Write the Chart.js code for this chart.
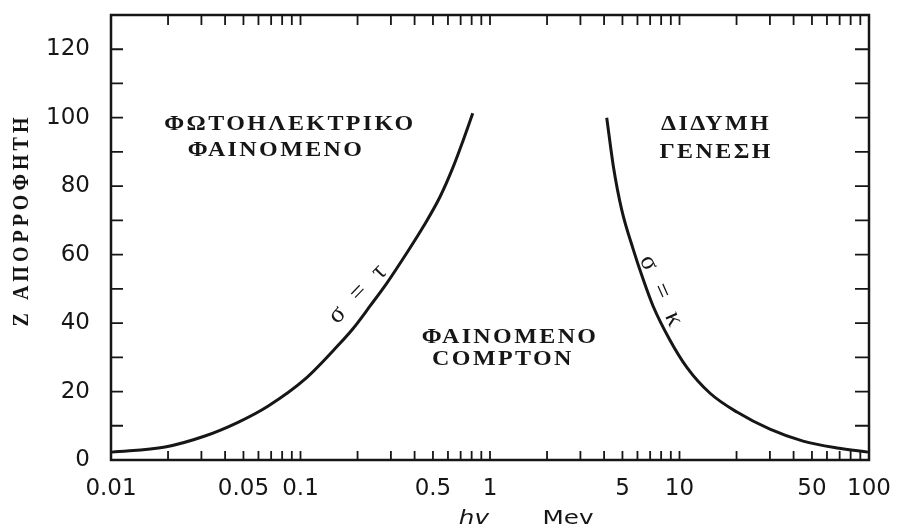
<!DOCTYPE html>
<html>
<head>
<meta charset="utf-8">
<script src="https://cdn.jsdelivr.net/npm/chart.js@4/dist/chart.umd.min.js"></script>
<style>
  html, body { margin: 0; padding: 0; background: #fff; overflow: hidden; }
  #wrap { width: 901px; height: 531px; }
  canvas { display: block; }
</style>
</head>
<body>
<div id="wrap"><canvas id="zChart" width="901" height="531"></canvas></div>
<script>
// boundary photoelectric / Compton (σ = τ): photon energy (MeV) vs Z
const photoEnergy = [0.0101, 0.0193, 0.0313, 0.0468, 0.0673, 0.1056, 0.158, 0.190, 0.233, 0.285, 0.363, 0.445, 0.545, 0.640, 0.723, 0.811];
const photoZ      = [2.3, 3.8, 7, 11, 15.7, 23.6, 33.5, 38.5, 45, 51.6, 60.4, 68.2, 76.9, 85.7, 93.5, 101.3];

// boundary Compton / pair production (σ = κ)
const pairEnergy = [4.13, 4.48, 4.96, 5.71, 6.41, 7.25, 8.91, 10.96, 14.5, 20.1, 30.0, 44.9, 67.8, 98.8];
const pairZ      = [100, 85.7, 73, 61.4, 53, 45, 35, 27, 19.5, 14, 9, 5.5, 3.5, 2.3];

// axis ticks
const xTickValues = [0.01, 0.05, 0.1, 0.5, 1, 5, 10, 50, 100];
const yTickValues = [0, 20, 40, 60, 80, 100, 120];
const decades = [0.01, 0.1, 1, 10];
const mantissas = [1, 2, 3, 4, 5, 6, 7, 8, 9];
const yMarkValues = [10, 20, 30, 40, 50, 60, 70, 80, 90, 100, 110, 120];

// region captions, anchored in data units (energy, Z)
const regionLabels = [
    { lines: ['ΦΩΤΟΗΛΕΚΤΡΙΚΟ', 'ΦΑΙΝΟΜΕΝΟ'], at: [[0.088, 98], [0.0743, 90.3]] },
    { lines: ['ΔΙΔΥΜΗ', 'ΓΕΝΕΣΗ'], at: [[15.6, 98], [15.6, 89.6]] },
    { lines: ['ΦΑΙΝΟΜΕΝΟ', 'COMPTON'], at: [[1.276, 35.8], [1.17, 29.3]] }
];
const curveLabels = [
    { text: 'σ = τ', at: [0.204, 49], angle: -46 },
    { text: 'σ = κ', at: [8.09, 48.8], angle: 66 }
];

const xMarkValues = [];
decades.forEach(d => mantissas.forEach(m => xMarkValues.push(+(d * m).toPrecision(3))));
xMarkValues.push(100);

const ink = '#161616';

function stretchedText(ctx, text, x, y, sx) {
    ctx.save();
    ctx.translate(x, y);
    ctx.scale(sx, 1);
    ctx.fillText(text, 0, 0);
    ctx.restore();
}

const frame = {
    id: 'frame',
    afterDraw(chart) {
        const { ctx, chartArea: a, scales: { x, y } } = chart;
        ctx.save();
        ctx.strokeStyle = ink;
        ctx.lineWidth = 2.5;
        ctx.strokeRect(a.left, a.top, a.right - a.left, a.bottom - a.top);

        // inward tick marks on all four sides
        ctx.lineWidth = 1.8;
        ctx.beginPath();
        xMarkValues.forEach(v => {
            const px = x.getPixelForValue(v);
            ctx.moveTo(px, a.top); ctx.lineTo(px, a.top + 10);
            ctx.moveTo(px, a.bottom); ctx.lineTo(px, a.bottom - 9);
        });
        yMarkValues.forEach(v => {
            const py = y.getPixelForValue(v);
            ctx.moveTo(a.left, py); ctx.lineTo(a.left + 12, py);
            ctx.moveTo(a.right, py); ctx.lineTo(a.right - 14, py);
        });
        ctx.stroke();

        ctx.fillStyle = ink;
        ctx.textAlign = 'center';
        ctx.textBaseline = 'middle';

        // region captions
        ctx.font = 'bold 20px "Liberation Serif", serif';
        ctx.letterSpacing = '2px';
        regionLabels.forEach(r => {
            r.lines.forEach((t, i) => {
                stretchedText(ctx, t, x.getPixelForValue(r.at[i][0]), y.getPixelForValue(r.at[i][1]), 1.2);
            });
        });

        // curve labels
        ctx.font = '26px "Liberation Serif", serif';
        ctx.letterSpacing = '5px';
        curveLabels.forEach(c => {
            ctx.save();
            ctx.translate(x.getPixelForValue(c.at[0]), y.getPixelForValue(c.at[1]));
            ctx.rotate(c.angle * Math.PI / 180);
            ctx.fillText(c.text, 0, 0);
            ctx.restore();
        });

        // y axis title
        ctx.font = 'bold 20px "Liberation Serif", serif';
        ctx.letterSpacing = '4px';
        ctx.save();
        ctx.translate(22, 220);
        ctx.rotate(-Math.PI / 2);
        ctx.scale(1, 1.2);
        ctx.fillText('Z ΑΠΟΡΡΟΦΗΤΗ', 0, 0);
        ctx.restore();

        // x axis title
        ctx.letterSpacing = '0px';
        ctx.font = 'italic 19px "DejaVu Sans", sans-serif';
        stretchedText(ctx, 'hv', 474, 519, 1.3);
        ctx.font = '19px "DejaVu Sans", sans-serif';
        stretchedText(ctx, 'Mev', 568, 519, 1.3);
        ctx.restore();
    }
};

const ctx = document.getElementById('zChart').getContext('2d');
const zChart = new Chart(ctx, {
    type: 'scatter',
    data: {
        datasets: [
            {
                label: 'σ = τ',
                data: photoEnergy.map((e, i) => ({ x: e, y: photoZ[i] })),
                showLine: true,
                borderColor: ink,
                borderWidth: 3,
                pointRadius: 0,
                cubicInterpolationMode: 'monotone'
            },
            {
                label: 'σ = κ',
                data: pairEnergy.map((e, i) => ({ x: e, y: pairZ[i] })),
                showLine: true,
                borderColor: ink,
                borderWidth: 3,
                pointRadius: 0,
                cubicInterpolationMode: 'monotone'
            }
        ]
    },
    options: {
        responsive: false,
        animation: false,
        devicePixelRatio: 1,
        layout: { padding: { top: 15, right: 32, left: 0, bottom: 0 } },
        plugins: {
            legend: { display: false },
            tooltip: { enabled: false }
        },
        scales: {
            x: {
                type: 'logarithmic',
                min: 0.01,
                max: 100,
                afterBuildTicks: s => { s.ticks = xTickValues.map(v => ({ value: v })); },
                afterFit: s => { s.height = 71; s.paddingLeft = 0; s.paddingRight = 0; },
                grid: { display: false },
                border: { display: false },
                ticks: {
                    autoSkip: false,
                    maxRotation: 0,
                    padding: 7,
                    color: ink,
                    font: { family: '"DejaVu Sans", sans-serif', size: 23 },
                    callback: v => String(v)
                }
            },
            y: {
                min: 0,
                max: 130,
                afterBuildTicks: s => { s.ticks = yTickValues.map(v => ({ value: v })); },
                afterFit: s => { s.width = 111; s.paddingTop = 0; s.paddingBottom = 0; },
                grid: { display: false },
                border: { display: false },
                ticks: {
                    padding: 13,
                    color: ink,
                    font: { family: '"DejaVu Sans", sans-serif', size: 23 },
                    callback: v => String(v)
                }
            }
        }
    },
    plugins: [frame]
});
</script>
</body>
</html>
